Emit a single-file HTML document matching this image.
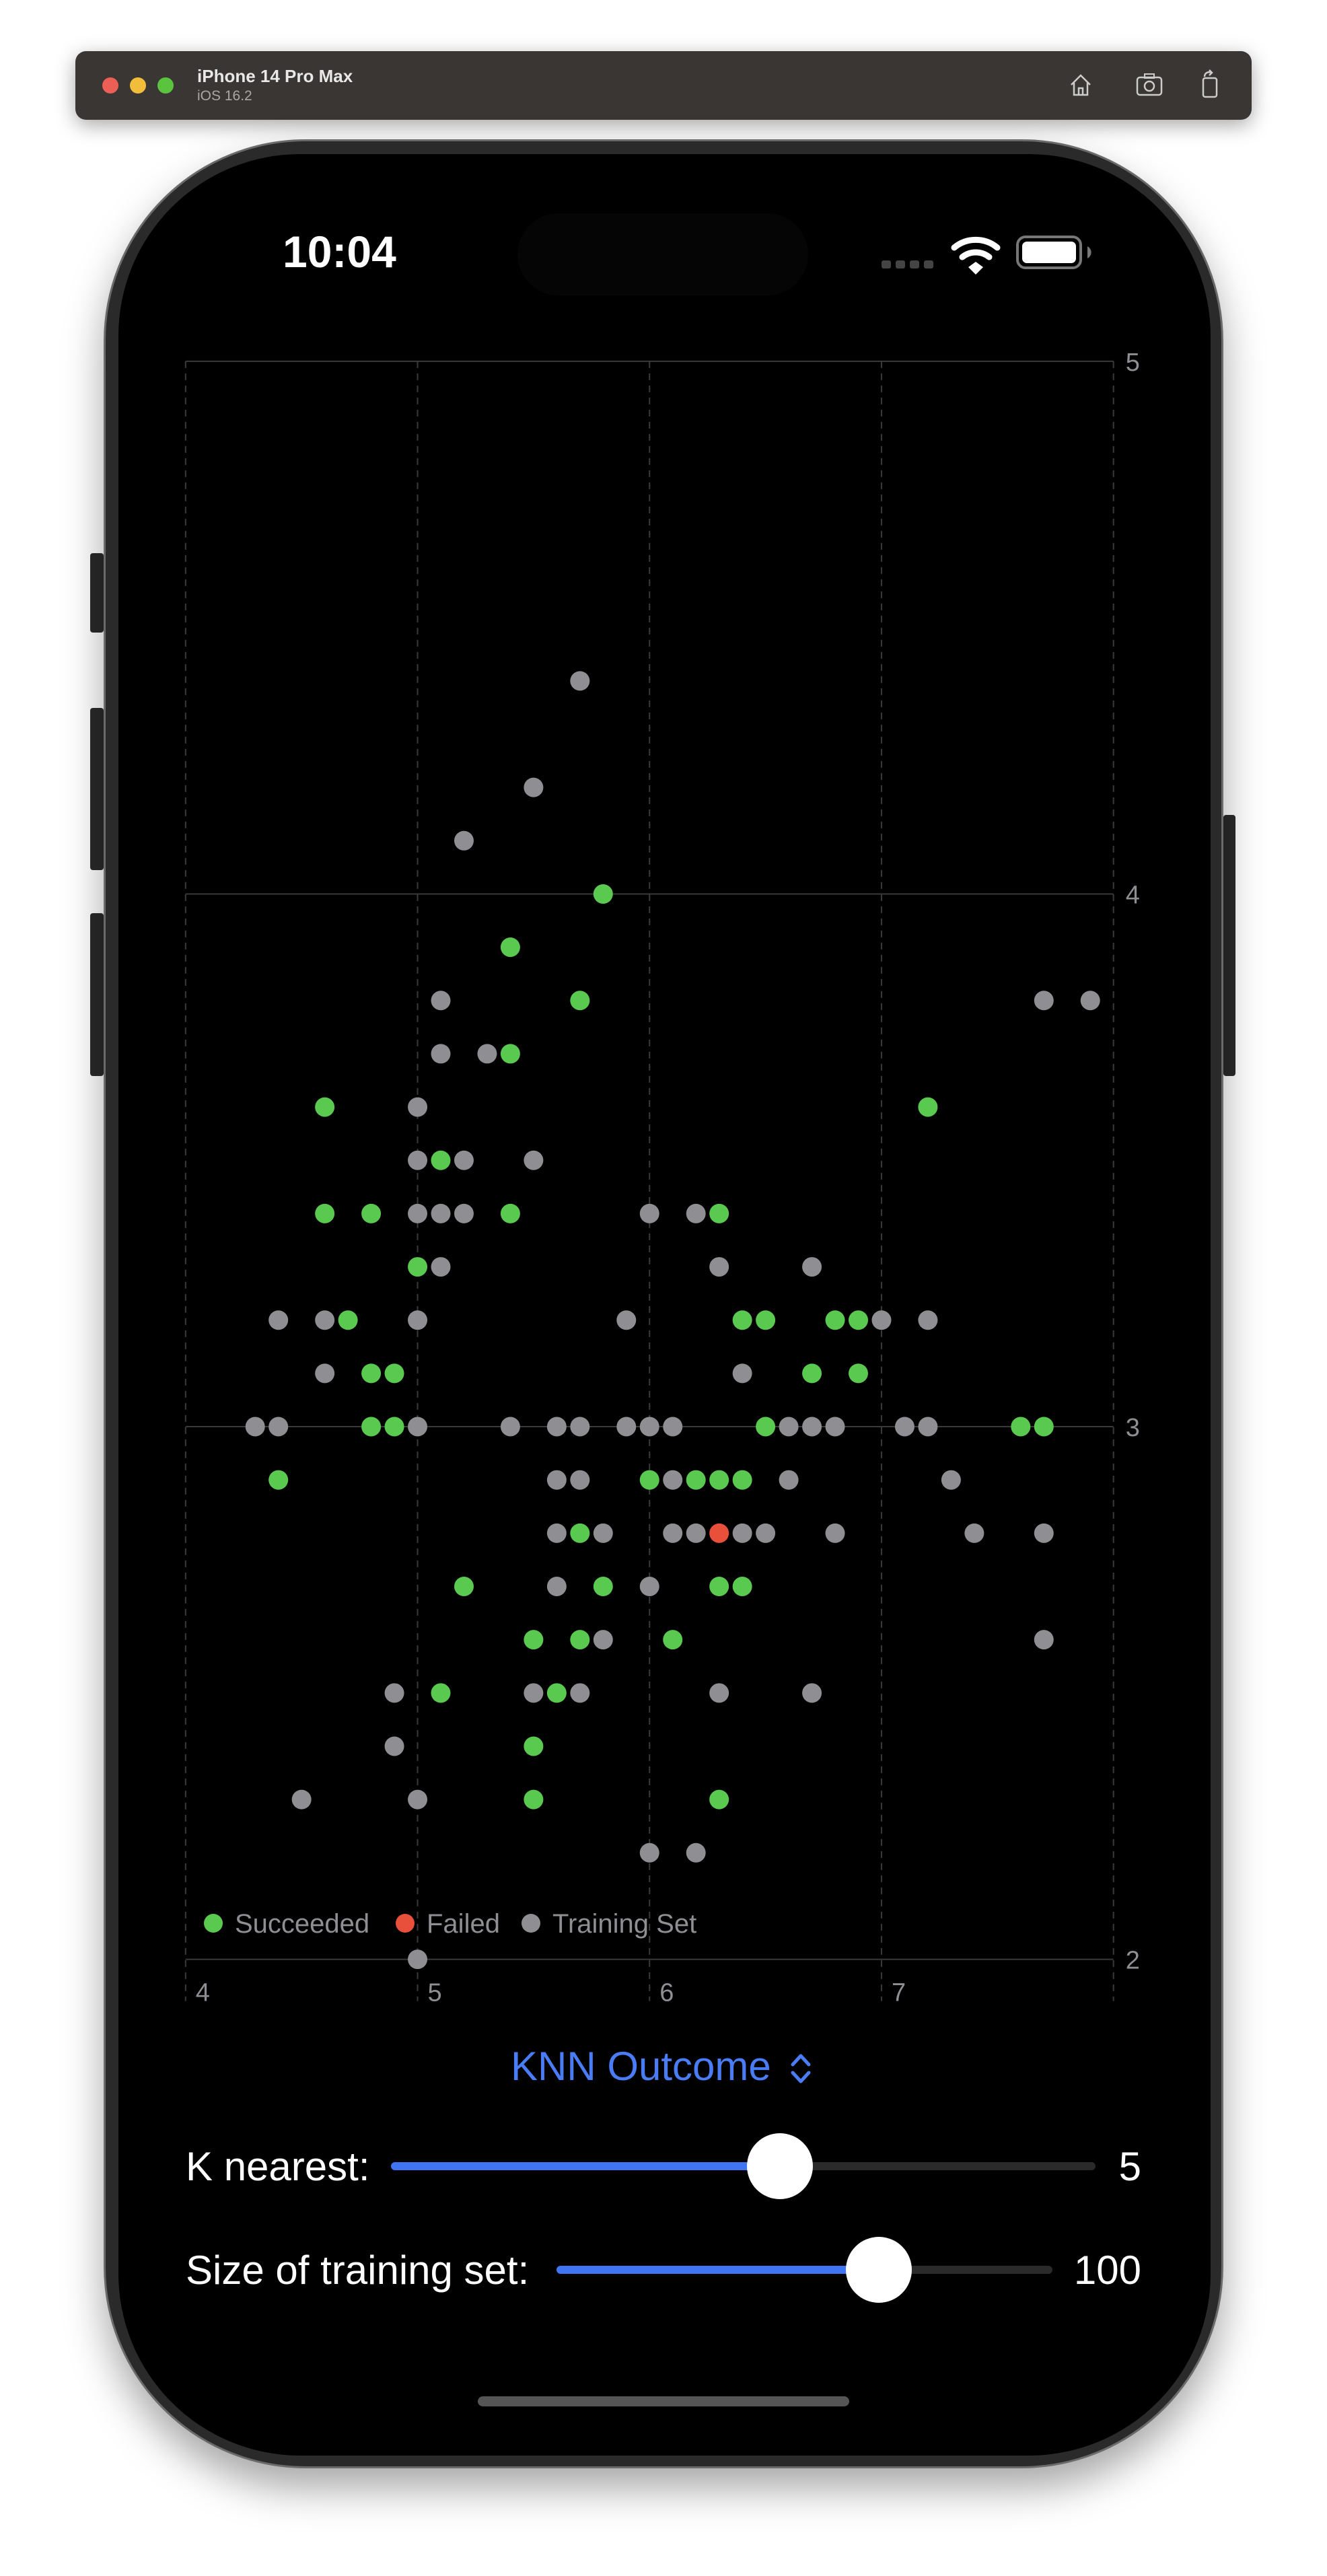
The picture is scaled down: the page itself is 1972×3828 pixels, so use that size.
<!DOCTYPE html>
<html><head><meta charset="utf-8">
<style>
html,body{margin:0;padding:0;background:#fff;}
body{width:1972px;height:3828px;position:relative;overflow:hidden;font-family:"Liberation Sans",sans-serif;}
.abs{position:absolute;}
</style></head>
<body>
<div class="abs" style="left:112px;top:76px;width:1748px;height:102px;background:#3a3633;border-radius:16px;box-shadow:0 8px 30px rgba(0,0,0,0.35);">
  <div class="abs" style="left:40px;top:39px;width:24px;height:24px;border-radius:50%;background:#ec5f56;"></div>
  <div class="abs" style="left:81px;top:39px;width:24px;height:24px;border-radius:50%;background:#f2bd3b;"></div>
  <div class="abs" style="left:122px;top:39px;width:24px;height:24px;border-radius:50%;background:#5ac43f;"></div>
  <div class="abs" style="left:181px;top:22px;font-size:26px;font-weight:bold;color:#e8e8e8;">iPhone 14 Pro Max</div>
  <div class="abs" style="left:181px;top:55px;font-size:21px;color:#a8a8a8;">iOS 16.2</div>
  <svg class="abs" style="left:1474px;top:30px" width="40" height="40" viewBox="0 0 40 40"><path d="M6 20 L20 6 L34 20 M10 17 V35 H30 V17 M17 35 V25 H23 V35" fill="none" stroke="#ccc" stroke-width="2.5"/></svg>
  <svg class="abs" style="left:1574px;top:30px" width="44" height="40" viewBox="0 0 44 40"><rect x="4" y="9" width="36" height="26" rx="4" fill="none" stroke="#ccc" stroke-width="2.5"/><circle cx="22" cy="22" r="7" fill="none" stroke="#ccc" stroke-width="2.5"/><rect x="15" y="4" width="14" height="6" fill="none" stroke="#ccc" stroke-width="2"/></svg>
  <svg class="abs" style="left:1668px;top:26px" width="36" height="46" viewBox="0 0 36 46"><rect x="8" y="14" width="20" height="28" rx="3" fill="none" stroke="#ccc" stroke-width="2.5"/><path d="M10 12 C10 6 16 4 20 6 M17 2 L21 6 L17 10" fill="none" stroke="#ccc" stroke-width="2.5"/></svg>
</div>

<div class="abs" style="left:134px;top:822px;width:20px;height:118px;background:#2a2a2a;border-radius:4px;"></div>
<div class="abs" style="left:134px;top:1052px;width:20px;height:241px;background:#2a2a2a;border-radius:4px;"></div>
<div class="abs" style="left:134px;top:1357px;width:20px;height:242px;background:#2a2a2a;border-radius:4px;"></div>
<div class="abs" style="left:1818px;top:1211px;width:18px;height:388px;background:#2a2a2a;border-radius:4px;"></div>

<div class="abs" style="left:154px;top:207px;width:1664px;height:3461px;border-radius:300px;background:#2a2a2a;border:3px solid #6a6a6a;box-sizing:border-box;box-shadow:0 30px 60px rgba(0,0,0,0.35);"></div>
<div class="abs" style="left:176px;top:229px;width:1623px;height:3420px;border-radius:270px;background:#000;"></div>

<div class="abs" style="left:769px;top:317px;width:432px;height:122px;border-radius:61px;background:#050505;"></div>
<div class="abs" style="left:420px;top:336px;font-size:66px;font-weight:bold;color:#fff;">10:04</div>
<svg class="abs" style="left:1300px;top:340px" width="340" height="70" viewBox="0 0 340 70">
  <rect x="10" y="47" width="14" height="12" rx="3" fill="#444"/><rect x="31" y="47" width="14" height="12" rx="3" fill="#444"/><rect x="52" y="47" width="14" height="12" rx="3" fill="#444"/><rect x="73" y="47" width="14" height="12" rx="3" fill="#444"/>
  <path d="M118 28 A50 50 0 0 1 182 28" fill="none" stroke="#fff" stroke-width="9" stroke-linecap="round"/>
  <path d="M130 42 A32 32 0 0 1 170 42" fill="none" stroke="#fff" stroke-width="9" stroke-linecap="round"/>
  <path d="M139 57 L150 49 L161 57 L150 68 Z" fill="#fff"/>
  <rect x="212" y="12" width="94" height="46" rx="12" fill="none" stroke="#777" stroke-width="4"/>
  <rect x="219" y="19" width="80" height="32" rx="7" fill="#fff"/>
  <path d="M316 26 A10 10 0 0 1 316 44 Z" fill="#777"/>
</svg>

<svg id="chart" class="abs" style="left:0;top:0" width="1972" height="3100"></svg>

<div class="abs" style="left:759px;top:3036px;font-size:60px;color:#4a7df5;white-space:nowrap;">KNN Outcome</div>
<svg class="abs" style="left:1170px;top:3048px" width="40" height="52" viewBox="0 0 40 52"><path d="M8 20 L20 7 L32 20 M8 32 L20 45 L32 32" fill="none" stroke="#4a7df5" stroke-width="5" stroke-linecap="round" stroke-linejoin="round"/></svg>

<div class="abs" style="left:276px;top:3185px;font-size:60px;color:#fff;">K nearest:</div>
<div class="abs" style="left:581px;top:3213px;width:1047px;height:12px;border-radius:6px;background:#2a2a2a;"></div>
<div class="abs" style="left:581px;top:3213px;width:578px;height:12px;border-radius:6px;background:#3f74f2;"></div>
<div class="abs" style="left:1110px;top:3170px;width:98px;height:98px;border-radius:50%;background:#fff;"></div>
<div class="abs" style="left:1636px;top:3185px;width:60px;text-align:right;font-size:60px;color:#fff;">5</div>

<div class="abs" style="left:276px;top:3339px;font-size:60px;color:#fff;">Size of training set:</div>
<div class="abs" style="left:827px;top:3367px;width:737px;height:12px;border-radius:6px;background:#2a2a2a;"></div>
<div class="abs" style="left:827px;top:3367px;width:479px;height:12px;border-radius:6px;background:#3f74f2;"></div>
<div class="abs" style="left:1257px;top:3324px;width:98px;height:98px;border-radius:50%;background:#fff;"></div>
<div class="abs" style="left:1566px;top:3339px;width:130px;text-align:right;font-size:60px;color:#fff;">100</div>

<div class="abs" style="left:710px;top:3561px;width:552px;height:15px;border-radius:8px;background:#555;"></div>

<script>
const xTicks = [4, 5, 6, 7, 8];
const yTicks = [5, 4, 3, 2];
const xTickLabels = ["4", "5", "6", "7"];
const yTickLabels = ["5", "4", "3", "2"];
const trainX = [5.7,5.5,5.2,5.1,7.7,7.9,5.1,5.3,5.0,5.0,5.2,5.5,5.0,5.1,5.2,6.0,6.2,5.1,6.3,6.7,4.4,4.6,5.0,5.9,7.0,7.2,4.6,6.4,4.3,4.4,5.0,5.4,5.6,5.7,5.9,6.0,6.1,6.6,6.7,6.8,7.1,7.2,5.6,5.7,6.1,6.6,7.3,5.6,5.8,6.1,6.2,6.4,6.5,6.8,7.4,7.7,5.6,6.0,5.8,7.7,4.9,5.5,5.7,6.3,6.7,4.9,4.5,5.0,6.0,6.2,5.0];
const trainY = [4.4,4.2,4.1,3.8,3.8,3.8,3.7,3.7,3.6,3.5,3.5,3.5,3.4,3.4,3.4,3.4,3.4,3.3,3.3,3.3,3.2,3.2,3.2,3.2,3.2,3.2,3.1,3.1,3.0,3.0,3.0,3.0,3.0,3.0,3.0,3.0,3.0,3.0,3.0,3.0,3.0,3.0,2.9,2.9,2.9,2.9,2.9,2.8,2.8,2.8,2.8,2.8,2.8,2.8,2.8,2.8,2.7,2.7,2.6,2.6,2.5,2.5,2.5,2.5,2.5,2.4,2.3,2.3,2.2,2.2,2.0];
const succX = [5.8,5.4,5.7,5.4,4.6,7.2,5.1,4.6,4.8,5.4,6.3,5.0,4.7,6.4,6.5,6.8,6.9,4.8,4.9,6.7,6.9,4.8,4.9,6.5,7.6,7.7,4.4,6.0,6.2,6.3,6.4,5.7,5.2,5.8,6.3,6.4,5.5,5.7,6.1,5.1,5.6,5.5,5.5,6.3];
const succY = [4.0,3.9,3.8,3.7,3.6,3.6,3.5,3.4,3.4,3.4,3.4,3.3,3.2,3.2,3.2,3.2,3.2,3.1,3.1,3.1,3.1,3.0,3.0,3.0,3.0,3.0,2.9,2.9,2.9,2.9,2.9,2.8,2.7,2.7,2.7,2.7,2.6,2.6,2.6,2.5,2.5,2.4,2.3,2.3];
const failX = [6.3];
const failY = [2.8];
const legendLabels = ["Succeeded", "Failed", "Training Set"];

const NS = "http://www.w3.org/2000/svg";
const svg = document.getElementById("chart");
const X0 = 275.8, X1 = 1654.7, Y0 = 536.9, Y1 = 2911.6;
function sx(v){ return X0 + (v - 4) / 4 * (X1 - X0); }
function sy(v){ return Y1 - (v - 2) / 3 * (Y1 - Y0); }
function mk(tag, attrs){ const e = document.createElementNS(NS, tag); for (const k in attrs) e.setAttribute(k, attrs[k]); svg.appendChild(e); return e; }

xTicks.forEach(function(t){
  const l = mk("line", {x1: sx(t), x2: sx(t), y1: Y0, y2: Y1 + 62, stroke: "#3a3a3a", "stroke-width": 2, "stroke-dasharray": "10 8"});
  
  
});
yTicks.forEach(function(t){
  const l = mk("line", {x1: X0, x2: X1, y1: sy(t), y2: sy(t), stroke: "#3a3a3a", "stroke-width": 2});
  
  
});
xTickLabels.forEach(function(s, i){
  const t = mk("text", {x: sx(xTicks[i]) + 15, y: Y1 + 62, fill: "#8e8e93", "font-size": 38, "font-family": "Liberation Sans, sans-serif"});
  t.textContent = s;
  
  
});
yTickLabels.forEach(function(s, i){
  const t = mk("text", {x: X1 + 18, y: sy(yTicks[i]) + 14, fill: "#8e8e93", "font-size": 38, "font-family": "Liberation Sans, sans-serif"});
  t.textContent = s;
  
  
});
function drawSeries(xs, ys, color, name){
  xs.forEach(function(v, i){
    const c = mk("circle", {cx: sx(v), cy: sy(ys[i]), r: 14.5, fill: color});
    
    
  });
}
drawSeries(trainX, trainY, "#8e8e93", "training-point");
drawSeries(succX, succY, "#5ac94f", "succeeded-point");
drawSeries(failX, failY, "#e9503b", "failed-point");

const legColors = ["#5ac94f", "#e9503b", "#8e8e93"];
const legX = [317, 602, 789];
legendLabels.forEach(function(s, i){
  const c = mk("circle", {cx: legX[i], cy: 2858, r: 14, fill: legColors[i]});
  
  
  const t = mk("text", {x: legX[i] + 32, y: 2872, fill: "#8e8e93", "font-size": 40, "font-family": "Liberation Sans, sans-serif"});
  t.textContent = s;
  
  
});
</script>
</body></html>
